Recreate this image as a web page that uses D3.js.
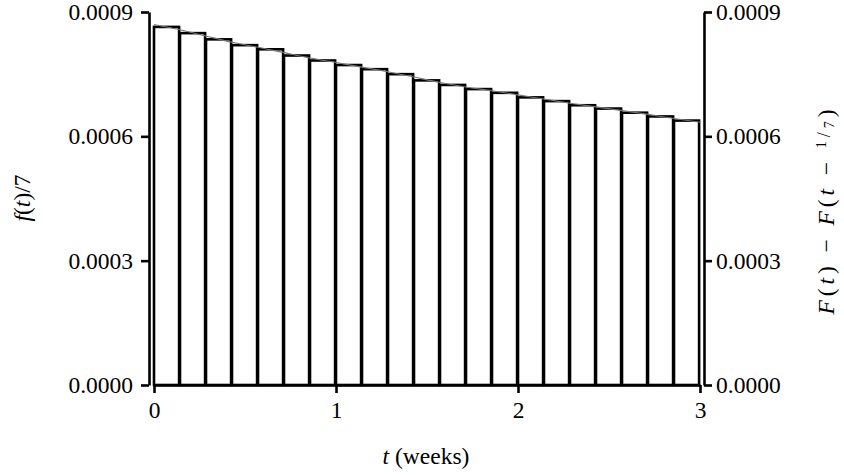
<!DOCTYPE html>
<html>
<head>
    <meta charset="utf-8">
    <title>f(t)/7 histogram</title>
    <script src="https://d3js.org/d3.v7.min.js"></script>
</head>
<style>
    body { margin: 0; background: #fff; }
    text { font-family: "Liberation Serif", "DejaVu Serif", serif; fill: #000; }
    .tick text { font-size: 23.5px; }
    .domain, .tick line { stroke: #000; stroke-width: 2.6; }
</style>
<body>
<svg id="chart" width="844" height="475"></svg>
<script>
    // bar heights: F(t) - F(t - 1/7) for each 1/7-week bin
    var binValues = [0.000864, 0.000849, 0.000834, 0.000820, 0.000810, 0.000795, 0.000783,
        0.000772, 0.000762, 0.000750, 0.000735, 0.000724, 0.000714, 0.000705,
        0.000694, 0.000685, 0.000675, 0.000667, 0.000657, 0.000648, 0.000638];
    // density curve f(t)/7 read at t = 0, 1/7, 2/7, ... 3
    var curveValues = [0.000870, 0.000857, 0.000842, 0.000827, 0.000815, 0.000802, 0.000789,
        0.000778, 0.000767, 0.000756, 0.000743, 0.000730, 0.000719, 0.000710,
        0.000700, 0.000690, 0.000680, 0.000671, 0.000662, 0.000653, 0.000643, 0.000634];
    var xTicks = [0, 1, 2, 3];
    var yTicks = [0, 0.0003, 0.0006, 0.0009];
    var binWidth = 1 / 7;

    var svg = d3.select("#chart");
    var x = d3.scaleLinear().domain([0, 3]).range([154, 700]);
    var y = d3.scaleLinear().domain([0, 0.0009]).range([385, 12]);

    // bars
    svg.append("g").selectAll("rect")
        .data(binValues)
        .enter().append("rect")
        .attr("x", function (d, i) { return x(i * binWidth); })
        .attr("y", function (d) { return y(d); })
        .attr("width", function (d, i) { return x((i + 1) * binWidth) - x(i * binWidth) - 0.9; })
        .attr("height", function (d) { return y(0) - y(d); })
        .attr("fill", "#fff")
        .attr("stroke", "#000")
        .attr("stroke-width", 2.6);

    // curve
    var line = d3.line()
        .x(function (d, i) { return x(i * binWidth); })
        .y(function (d) { return y(d); })
        .curve(d3.curveMonotoneX);
    svg.append("path")
        .datum(curveValues)
        .attr("d", line)
        .attr("fill", "none")
        .attr("stroke", "#777")
        .attr("stroke-width", 1.1);

    var fmt = d3.format(".4f");

    // x axis
    svg.append("g")
        .attr("transform", "translate(0," + y(0) + ")")
        .call(d3.axisBottom(x).tickValues(xTicks).tickFormat(d3.format("d")).tickSize(8).tickSizeOuter(0))
        .call(function (g) { g.selectAll(".tick text").attr("y", 33).attr("dy", 0); });

    // left axis (offset outward)
    svg.append("g")
        .attr("transform", "translate(149,0)")
        .call(d3.axisLeft(y).tickValues(yTicks).tickFormat(fmt).tickSize(8).tickSizeOuter(0).tickPadding(8));

    // right axis (offset outward)
    svg.append("g")
        .attr("transform", "translate(704,0)")
        .call(d3.axisRight(y).tickValues(yTicks).tickFormat(fmt).tickSize(8).tickSizeOuter(0).tickPadding(4));

    svg.selectAll(".domain").attr("fill", "none");

    // x label
    var xl = svg.append("text")
        .attr("x", 426).attr("y", 464)
        .attr("text-anchor", "middle")
        .style("font-size", "23.5px");
    xl.append("tspan").attr("font-style", "italic").text("t");
    xl.append("tspan").text(" (weeks)");

    // left y label
    var yl = svg.append("text")
        .attr("transform", "translate(30,198) rotate(-90)")
        .attr("text-anchor", "middle")
        .style("font-size", "23.5px");
    yl.append("tspan").attr("font-style", "italic").text("f");
    yl.append("tspan").text("(");
    yl.append("tspan").attr("font-style", "italic").text("t");
    yl.append("tspan").text(")/7");

    // right y label
    var yr = svg.append("text")
        .attr("transform", "translate(834,212) rotate(-90)")
        .attr("text-anchor", "middle")
        .style("font-size", "23.5px");
    yr.append("tspan").attr("font-style", "italic").text("F");
    yr.append("tspan").text("(");
    yr.append("tspan").attr("font-style", "italic").text("t");
    yr.append("tspan").text(") \u2212 ");
    yr.append("tspan").attr("font-style", "italic").text("F");
    yr.append("tspan").text("(");
    yr.append("tspan").attr("font-style", "italic").text("t");
    yr.append("tspan").text(" \u2212 ");
    yr.append("tspan").attr("font-size", "14px").attr("dy", "-8").text("1");
    yr.append("tspan").attr("font-size", "18px").attr("dy", "4").text("/");
    yr.append("tspan").attr("font-size", "14px").attr("dy", "4").text("7");
    yr.append("tspan").attr("dy", "0").text(")");
    yr.attr("textLength", 205).attr("lengthAdjust", "spacing");
</script>
</body>
</html>
